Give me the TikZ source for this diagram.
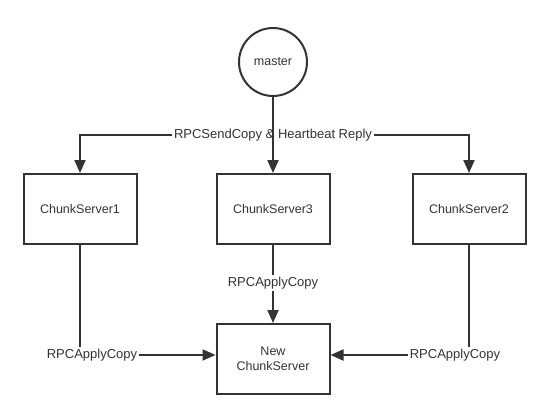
\documentclass[tikz,border=0pt]{standalone}
\usepackage{fontspec}
\setmainfont{Liberation Sans}
\usetikzlibrary{positioning,arrows.meta}
\definecolor{ink}{HTML}{333333}

\begin{document}
\begin{tikzpicture}[x=1pt,y=1pt,%
		   node/.style={draw=ink,line width=2pt,text=ink,font=\fontsize{12.5pt}{15pt}\selectfont},
		   server/.style={node,rectangle,minimum width=113pt,minimum height=70pt,align=center},
		   master/.style={node,circle,minimum size=68pt},
		   lbl/.style={text=ink,inner sep=2pt,font=\fontsize{13pt}{15pt}\selectfont},
		   line/.style={draw=ink,line width=2pt},
		   link/.style={line,-{Triangle[length=13pt,width=11pt]}}]

	\useasboundingbox (0,0) rectangle (549,-415);

	\node[master] (master) at (273,-62) {master};
	\node[server,below=76pt of master] (cs3) {ChunkServer3};
	\node[server,left=78pt of cs3] (cs1) {ChunkServer1};
	\node[server,right=81pt of cs3] (cs2) {ChunkServer2};
	\node[server,below=78pt of cs3] (new) {New\\ChunkServer};

	% labels sitting on the connectors
	\node[lbl] (sendlbl) at (273,-135) {RPCSendCopy \& Heartbeat Reply};
	\node[lbl] (lbl3) at (273,-283) {RPCApplyCopy};
	\node[lbl] (lblL) at (92,-355) {RPCApplyCopy};
	\node[lbl] (lblR) at (455,-355) {RPCApplyCopy};

	\draw[link] (master) -- (cs3);
	\draw[link] (sendlbl.west) -| (cs1.north);
	\draw[link] (sendlbl.east) -| (cs2.north);

	\draw[line] (cs3) -- (lbl3);
	\draw[link] (lbl3) -- (new);
	\draw[line] (cs1.south) -- (cs1.south |- lblL.north);
	\draw[link] (lblL.east) -- (lblL.east -| new.west);
	\draw[line] (cs2.south) -- (cs2.south |- lblR.north);
	\draw[link] (lblR.west) -- (lblR.west -| new.east);
\end{tikzpicture}
\end{document}
